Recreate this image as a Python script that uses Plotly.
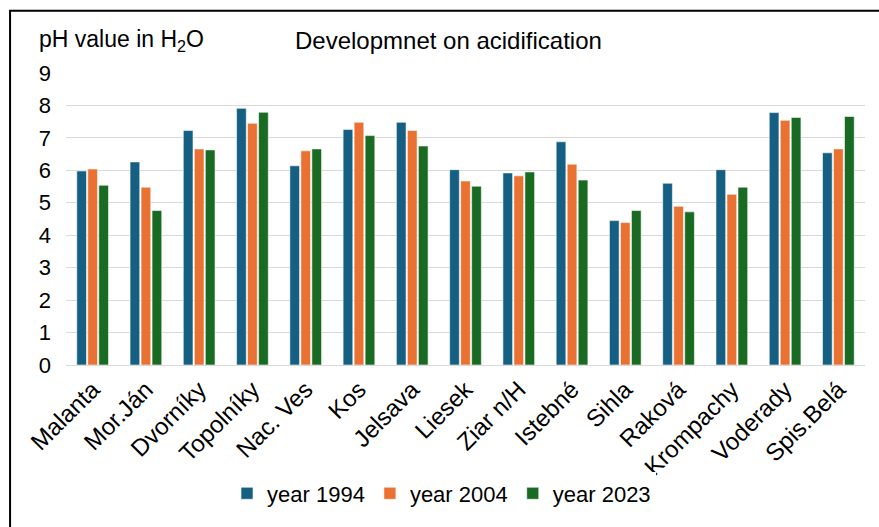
import plotly.graph_objects as go

sites = ["Malanta", "Mor.Ján", "Dvorníky", "Topolníky", "Nac. Ves", "Kos", "Jelsava",
         "Liesek", "Ziar n/H", "Istebné", "Sihla", "Raková", "Krompachy", "Voderady", "Spis.Belá"]
ph_1994 = [5.98, 6.26, 7.23, 7.91, 6.14, 7.26, 7.48, 6.02, 5.92, 6.88, 4.45, 5.60, 6.02, 7.78, 6.54]
ph_2004 = [6.04, 5.48, 6.66, 7.45, 6.60, 7.48, 7.23, 5.67, 5.83, 6.19, 4.39, 4.89, 5.26, 7.54, 6.66]
ph_2023 = [5.54, 4.76, 6.63, 7.79, 6.66, 7.07, 6.75, 5.51, 5.95, 5.70, 4.76, 4.72, 5.48, 7.63, 7.66]

series = [
    ("year 1994", ph_1994, "#156082"),
    ("year 2004", ph_2004, "#E97132"),
    ("year 2023", ph_2023, "#196B24"),
]

FONT = "Liberation Sans, Arial, sans-serif"

fig = go.Figure()
for name, vals, color in series:
    fig.add_trace(go.Bar(
        x=sites, y=vals, name=name,
        marker=dict(color=color, line=dict(color="rgba(255,255,255,0.7)", width=0.8)),
    ))

fig.update_layout(
    width=879, height=527,
    margin=dict(l=66, r=14, t=73, b=159),
    paper_bgcolor="white", plot_bgcolor="white",
    barmode="group", bargap=0.38, bargroupgap=0.12,
    font=dict(family=FONT, size=22, color="black"),
    showlegend=True,
    legend=dict(orientation="h", x=0.47, xanchor="center", y=-0.44, yanchor="middle",
                font=dict(size=22), itemwidth=30, tracegroupgap=0, itemclick=False),
    xaxis=dict(tickangle=-45, showgrid=False, showline=True, linecolor="#d9d9d9",
               linewidth=1, ticks="", tickfont=dict(size=24)),
    yaxis=dict(range=[0, 9], dtick=1, showgrid=True, gridcolor="#d9d9d9", gridwidth=1,
               zeroline=False, showline=False, ticks="", ticklabelstandoff=14,
               tickfont=dict(size=22)),
    annotations=[
        dict(text="pH value in H<sub>2</sub>O", xref="paper", yref="paper",
             x=-0.036, y=1.112, xanchor="left", yanchor="middle", showarrow=False,
             font=dict(size=23)),
        dict(text="Developmnet on acidification", xref="paper", yref="paper",
             x=0.284, y=1.112, xanchor="left", yanchor="middle", showarrow=False,
             font=dict(size=24)),
    ],
    shapes=[
        dict(type="rect", xref="paper", yref="paper", x0=-0.07, y0=-0.7, x1=1.2, y1=1.2136,
             line=dict(color="black", width=2), fillcolor="rgba(0,0,0,0)", layer="below"),
    ],
)

fig.write_html("out.html")
